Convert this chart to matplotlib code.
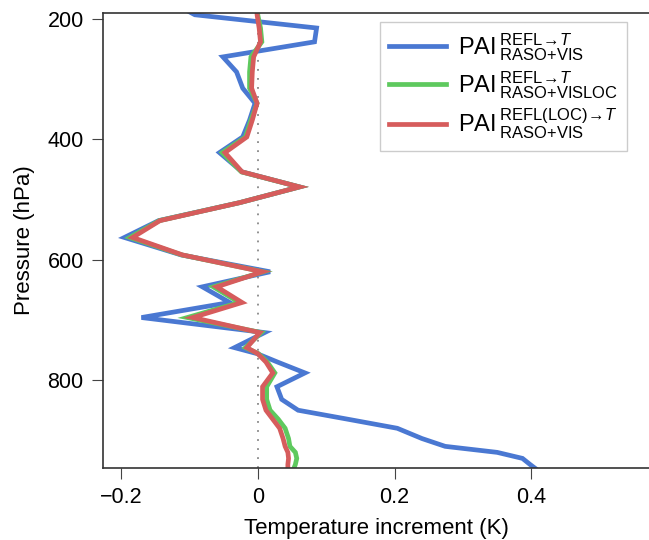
import matplotlib
matplotlib.use('Agg')
from matplotlib import pyplot as plt

plt.rcParams['font.family'] = ['Liberation Sans', 'DejaVu Sans']
plt.rcParams['mathtext.fontset'] = 'custom'
plt.rcParams['mathtext.rm'] = 'Liberation Sans'
plt.rcParams['mathtext.it'] = 'Liberation Sans:italic'
plt.rcParams['mathtext.bf'] = 'Liberation Sans:bold'

# pressure levels (hPa)
pressure = [185, 193, 215, 238, 263, 288, 315, 340, 368, 396, 422, 454, 479,
            505, 535, 563, 592, 620, 645, 671, 696, 721, 746, 756, 770, 788,
            811, 832, 850, 865, 880, 897, 910, 920, 930, 940, 946]

# temperature increments (K)
pai_vis = [-0.105, -0.092, 0.086, 0.083, -0.051, -0.031, -0.022, -0.004,
           -0.012, -0.022, -0.056, -0.023, 0.061, -0.026, -0.145, -0.195,
           -0.112, 0.018, -0.081, -0.041, -0.170, 0.010, -0.034, -0.001,
           0.029, 0.069, 0.028, 0.035, 0.059, 0.132, 0.204, 0.240, 0.274,
           0.350, 0.387, 0.398, 0.405]
pai_visloc = [0.000, 0.000, 0.004, 0.006, -0.010, -0.012, -0.012, -0.001,
              -0.010, -0.018, -0.052, -0.024, 0.061, -0.026, -0.144, -0.187,
              -0.111, 0.008, -0.065, -0.027, -0.103, 0.005, -0.018, 0.001,
              0.014, 0.025, 0.013, 0.013, 0.018, 0.030, 0.040, 0.045, 0.047,
              0.055, 0.057, 0.055, 0.053]
pai_loc = [-0.001, -0.001, 0.002, 0.004, -0.006, -0.008, -0.009, -0.001,
           -0.008, -0.016, -0.048, -0.023, 0.061, -0.026, -0.143, -0.183,
           -0.110, 0.007, -0.060, -0.023, -0.095, 0.003, -0.016, 0.000,
           0.012, 0.022, 0.007, 0.007, 0.012, 0.022, 0.032, 0.037, 0.040,
           0.044, 0.045, 0.044, 0.044]

labels = [r'PAI$\,^{\mathrm{REFL}\!{\rightarrow}\!T}_{\mathrm{RASO{+}VIS}}$',
          r'PAI$\,^{\mathrm{REFL}\!{\rightarrow}\!T}_{\mathrm{RASO{+}VISLOC}}$',
          r'PAI$\,^{\mathrm{REFL(LOC)}\!{\rightarrow}\!T}_{\mathrm{RASO{+}VIS}}$']
colors = ['#4a78d2', '#5ec95e', '#d65c5c']

fig = plt.figure(figsize=(6.49, 5.40), dpi=100)
ax = fig.add_axes([0.159, 0.1333, 0.841, 0.8427])

ax.axvline(0, color='#888888', lw=1.3, ls=(0, (1, 4)), zorder=1)
for vals, lab, c in zip([pai_vis, pai_visloc, pai_loc], labels, colors):
    ax.plot(vals, pressure, color=c, lw=3.4, label=lab, solid_joinstyle='miter')

ax.set_xlim(-0.226, 0.572)
ax.set_ylim(946, 190)
ax.set_xticks([-0.2, 0, 0.2, 0.4])
ax.set_xticklabels(['\u22120.2', '0', '0.2', '0.4'])
ax.set_yticks([200, 400, 600, 800])
ax.tick_params(direction='out', length=8, width=0.8, labelsize=15.5, pad=6,
               color='#444444')
ax.spines['right'].set_visible(False)
for s in ['left', 'top', 'bottom']:
    ax.spines[s].set_linewidth(1.2)
    ax.spines[s].set_color('#333333')

ax.set_xlabel('Temperature increment (K)', fontsize=16, labelpad=7)
ax.set_ylabel('Pressure (hPa)', fontsize=16, labelpad=9)

leg = ax.legend(loc='upper right', bbox_to_anchor=(0.96, 0.98), fontsize=17,
                fancybox=False, edgecolor='#cccccc', framealpha=1,
                handlelength=2.4, handletextpad=0.5, borderpad=0.4,
                labelspacing=0.25, borderaxespad=0)
leg.get_frame().set_linewidth(1.0)

fig.savefig('out.png', dpi=100)
